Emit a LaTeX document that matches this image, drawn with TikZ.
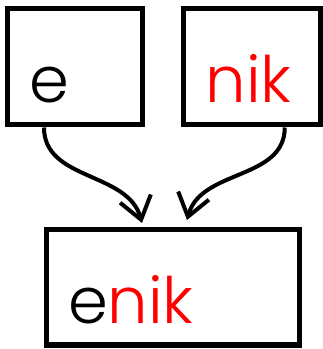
\documentclass[tikz,border=0pt]{standalone}
\usepackage{fontspec}
\setmainfont{Poppins Light}
\usetikzlibrary{arrows.meta,positioning}

\begin{document}
\begin{tikzpicture}[x=1pt,y=1pt,
		wordbox/.style={
			rectangle, draw, line width=5pt,
			text width=#1, inner xsep=22pt, inner ysep=0pt,
			minimum height=116pt, align=left,
			text height=72pt, text depth=0pt,
			font=\fontsize{64}{64}\selectfont
		},
		arrow/.style={line width=4pt, -{Straight Barb[angle'=72, scale=2.3]}}
		]
		\useasboundingbox (0,0) rectangle (323,349);
		
		% first part
		\node[wordbox=91pt] (e) at (75,282) {e};
		
		% second part
		\node[wordbox=92.5pt, right=36pt of e] (nik) {\textcolor{red}{nik}};
		
		% joined word
		\node[wordbox=209pt, minimum height=115pt] (enik) at (172.5,61.5) {e\textcolor{red}{nik}};
		
		% arrows into the joined word
		\draw[arrow] ([xshift=-31pt]e.south) to[out=-90,in=105] ([xshift=-30.5pt,yshift=4.5pt]enik.north);
		\draw[arrow] ([xshift=33pt]nik.south) to[out=-90,in=75] ([xshift=14.5pt,yshift=7.5pt]enik.north);
\end{tikzpicture}
\end{document}
